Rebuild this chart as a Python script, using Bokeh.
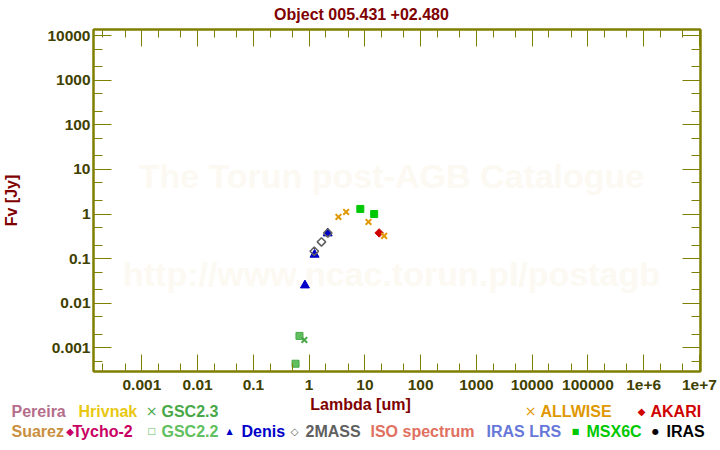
from math import pi
from bokeh.plotting import figure
from bokeh.models import Range1d, LogAxis, FixedTicker, Label
from bokeh.core.properties import value
from bokeh.embed import file_html
from bokeh.resources import INLINE

# ---------------- data ----------------
title_text = "Object 005.431 +02.480"
x_label = "Lambda [um]"
y_label = "Fv [Jy]"
watermark_1 = "The Torun post-AGB Catalogue"
watermark_2 = "http://www.ncac.torun.pl/postagb"

x_tick_values = [1e-3, 1e-2, 1e-1, 1.0, 10.0, 100.0, 1e3, 1e4, 1e5, 1e6, 1e7]
x_tick_labels = ["0.001", "0.01", "0.1", "1", "10", "100", "1000", "10000",
                 "100000", "1e+6", "1e+7"]
y_tick_values = [1e-3, 1e-2, 1e-1, 1.0, 10.0, 100.0, 1e3, 1e4]
y_tick_labels = ["0.001", "0.01", "0.1", "1", "10", "100", "1000", "10000"]

gsc23_wl = [0.82]
gsc23_fv = [0.0015]
gsc22_wl = [0.57, 0.67]
gsc22_fv = [0.00044, 0.00185]
denis_wl = [0.84, 1.25, 2.15]
denis_fv = [0.0252, 0.123, 0.37]
twomass_wl = [1.235, 1.662, 2.159]
twomass_fv = [0.146, 0.237, 0.376]
msx_wl = [8.28, 14.65]
msx_fv = [1.30, 1.00]
akari_wl = [18.0]
akari_fv = [0.377]
wise_wl = [3.35, 4.6, 11.6, 22.1]
wise_fv = [0.86, 1.11, 0.665, 0.323]

legend_row1 = ["Pereira", "Hrivnak", "GSC2.3", "ALLWISE", "AKARI"]
legend_row2 = ["Suarez", "Tycho-2", "GSC2.2", "Denis", "2MASS", "ISO spectrum",
               "IRAS LRS", "MSX6C", "IRAS"]

# ---------------- styles / layout ----------------
C = {
    "Pereira": "#b46e8c", "Hrivnak": "#e8c810", "GSC2.3": "#48a848",
    "ALLWISE": "#e09800", "AKARI": "#d00000", "Suarez": "#c89040",
    "Tycho-2": "#c80064", "GSC2.2": "#60c060", "Denis": "#0000c8",
    "2MASS": "#606060", "ISO spectrum": "#e07060", "IRAS LRS": "#6878d8",
    "MSX6C": "#00c800", "IRAS": "#000000",
}
SYM = {"GSC2.3": ("\u00d7", "14px"), "ALLWISE": ("\u00d7", "14px"),
       "AKARI": ("\u25c6", "10px"), "Tycho-2": ("\u25c6", "10px"),
       "GSC2.2": ("\u25a1", "9px"), "Denis": ("\u25b2", "8px"),
       "2MASS": ("\u25c7", "10px"), "MSX6C": ("\u25a0", "8px"),
       "IRAS": ("\u25cf", "8px")}
ROW1_X = {"Pereira": 11, "Hrivnak": 78, "GSC2.3": 161, "ALLWISE": 540, "AKARI": 650}
ROW2_X = {"Suarez": 11, "Tycho-2": 72, "GSC2.2": 161, "Denis": 241, "2MASS": 305,
          "ISO spectrum": 370, "IRAS LRS": 486, "MSX6C": 586, "IRAS": 666}
SYM_X = {"GSC2.3": 151, "ALLWISE": 530, "AKARI": 641, "Tycho-2": 69.5,
         "GSC2.2": 151, "Denis": 229, "2MASS": 294, "MSX6C": 575, "IRAS": 655}
TEXT_SHIFT = -5.5     # compensates the text glyph's baseline placement

W = 720
TITLE_H = 24          # canvas rows 0..24
MAIN_H = 373          # canvas rows 24..397
LEG_H = 450 - TITLE_H - MAIN_H
LEFT, RIGHT = 92, 20
MAIN_TOP, MAIN_BOTTOM = 5, 26
FRAME_BOTTOM = TITLE_H + MAIN_H - MAIN_BOTTOM   # canvas y of frame bottom (371)

OLIVE = "#808000"
TICK_TXT = "#404000"
DARKRED = "#800000"
FONT = "Liberation Sans"


def strip(height, y_top):
    f = figure(width=W, height=height, x_range=Range1d(0, W),
               y_range=Range1d(y_top + height, y_top),
               x_axis_location=None, y_axis_location=None, min_border=0,
               output_backend="svg", toolbar_location=None)
    f.grid.visible = False
    f.outline_line_color = None
    return f


# ---------------- title strip ----------------
pt = strip(TITLE_H, 0)
pt.text(x=[361], y=[19 + TEXT_SHIFT], text=[title_text], text_color=DARKRED,
        text_font=value(FONT), text_font_style="bold", text_font_size="16px",
        text_align="center", text_baseline="alphabetic")

# ---------------- main plot ----------------
p = figure(width=W, height=MAIN_H, x_axis_type="log", y_axis_type="log",
           x_range=Range1d(10 ** -3.868, 10 ** 7.019),
           y_range=Range1d(10 ** -3.531, 10 ** 4.137),
           output_backend="svg", toolbar_location=None, title=None,
           min_border_left=LEFT, min_border_right=RIGHT,
           min_border_top=MAIN_TOP, min_border_bottom=MAIN_BOTTOM)
p.xgrid.visible = False
p.ygrid.visible = False
p.outline_line_color = OLIVE
p.outline_line_width = 2

x_minor = [m * 10.0 ** k for k in range(-4, 8) for m in (2, 5)]
y_minor = [m * 10.0 ** k for k in range(-4, 5) for m in (2, 5)]


def style_axis(ax, ticks, minor, labels, show, tick_len, minor_len):
    ax.ticker = FixedTicker(ticks=ticks, minor_ticks=minor)
    ax.axis_line_color = OLIVE
    ax.axis_line_width = 2
    ax.major_tick_line_color = OLIVE
    ax.minor_tick_line_color = OLIVE
    ax.major_tick_line_width = 1
    ax.minor_tick_line_width = 1
    ax.major_tick_in = tick_len
    ax.major_tick_out = 0
    ax.minor_tick_in = minor_len
    ax.minor_tick_out = 0
    ax.major_label_overrides = {v: s for v, s in zip(ticks, labels)}
    ax.major_label_text_font = FONT
    ax.major_label_text_font_style = "bold"
    ax.major_label_text_font_size = "15.5px"
    ax.major_label_text_color = TICK_TXT
    if not show:
        ax.major_label_text_alpha = 0.0
        ax.major_label_text_font_size = "1px"
        ax.major_label_standoff = 0


style_axis(p.xaxis[0], x_tick_values, x_minor, x_tick_labels, True, 17, 8)
p.xaxis[0].major_label_standoff = 8
style_axis(p.yaxis[0], y_tick_values, y_minor, y_tick_labels, True, 18, 9)
p.yaxis[0].major_label_standoff = 3
p.yaxis[0].axis_label = y_label
p.yaxis[0].axis_label_text_font = FONT
p.yaxis[0].axis_label_text_font_style = "bold"
p.yaxis[0].axis_label_text_font_size = "16px"
p.yaxis[0].axis_label_text_color = DARKRED
p.yaxis[0].axis_label_standoff = 24

top_ax = LogAxis()
style_axis(top_ax, x_tick_values, x_minor, x_tick_labels, False, 17, 8)
p.add_layout(top_ax, "above")
right_ax = LogAxis()
style_axis(right_ax, y_tick_values, y_minor, y_tick_labels, False, 18, 9)
p.add_layout(right_ax, "right")

# watermark (frame-relative screen units)
for txt, cy in ((watermark_1, 175), (watermark_2, 273)):
    p.add_layout(Label(x=390 - LEFT, y=FRAME_BOTTOM - cy, x_units="screen",
                       y_units="screen", text=txt, text_color="#fcf9f3",
                       text_font=FONT, text_font_style="bold", text_font_size="34px",
                       text_align="center", text_baseline="alphabetic",
                       level="underlay"))

# data
p.scatter(gsc22_wl, gsc22_fv, marker="square", size=7, fill_color=C["GSC2.2"],
          line_color="#48a848", line_width=1)
p.scatter(gsc23_wl, gsc23_fv, marker="x", size=8, line_color=C["GSC2.3"], line_width=2)
p.scatter(denis_wl, denis_fv, marker="triangle", size=9, fill_color=C["Denis"],
          line_color=C["Denis"])
p.scatter(twomass_wl, twomass_fv, marker="square", angle=pi / 4, size=6,
          fill_color=None, line_color=C["2MASS"], line_width=1.5)
p.scatter(msx_wl, msx_fv, marker="square", size=7, fill_color=C["MSX6C"],
          line_color=C["MSX6C"])
p.scatter(akari_wl, akari_fv, marker="square", angle=pi / 4, size=6,
          fill_color=C["AKARI"], line_color=C["AKARI"])
p.scatter(wise_wl, wise_fv, marker="x", size=8, line_color=C["ALLWISE"], line_width=2)

# ---------------- x label + legend strip ----------------
pl = strip(LEG_H, TITLE_H + MAIN_H)
pl.text(x=[360], y=[409 + TEXT_SHIFT], text=[x_label], text_color=DARKRED,
        text_font=value(FONT), text_font_style="bold", text_font_size="16px",
        text_align="center", text_baseline="alphabetic")

names = legend_row1 + legend_row2
pl.text(x=[ROW1_X[n] for n in legend_row1] + [ROW2_X[n] for n in legend_row2],
        y=[416.5 + TEXT_SHIFT] * len(legend_row1) + [436.5 + TEXT_SHIFT] * len(legend_row2),
        text=names, text_color=[C[n] for n in names],
        text_font=value(FONT), text_font_style="bold", text_font_size="16px",
        text_align="left", text_baseline="alphabetic")

for name, (sym, sz) in SYM.items():
    cy = 410.5 if name in legend_row1 else 430.5
    pl.text(x=[SYM_X[name]], y=[cy], text=[sym], text_color=C[name],
            text_font=value("DejaVu Sans"), text_font_size=sz,
            text_align="center", text_baseline="middle")

# three independent roots stacked vertically (no frame alignment between them)
open("out.html", "w").write(file_html([pt, p, pl], INLINE))
